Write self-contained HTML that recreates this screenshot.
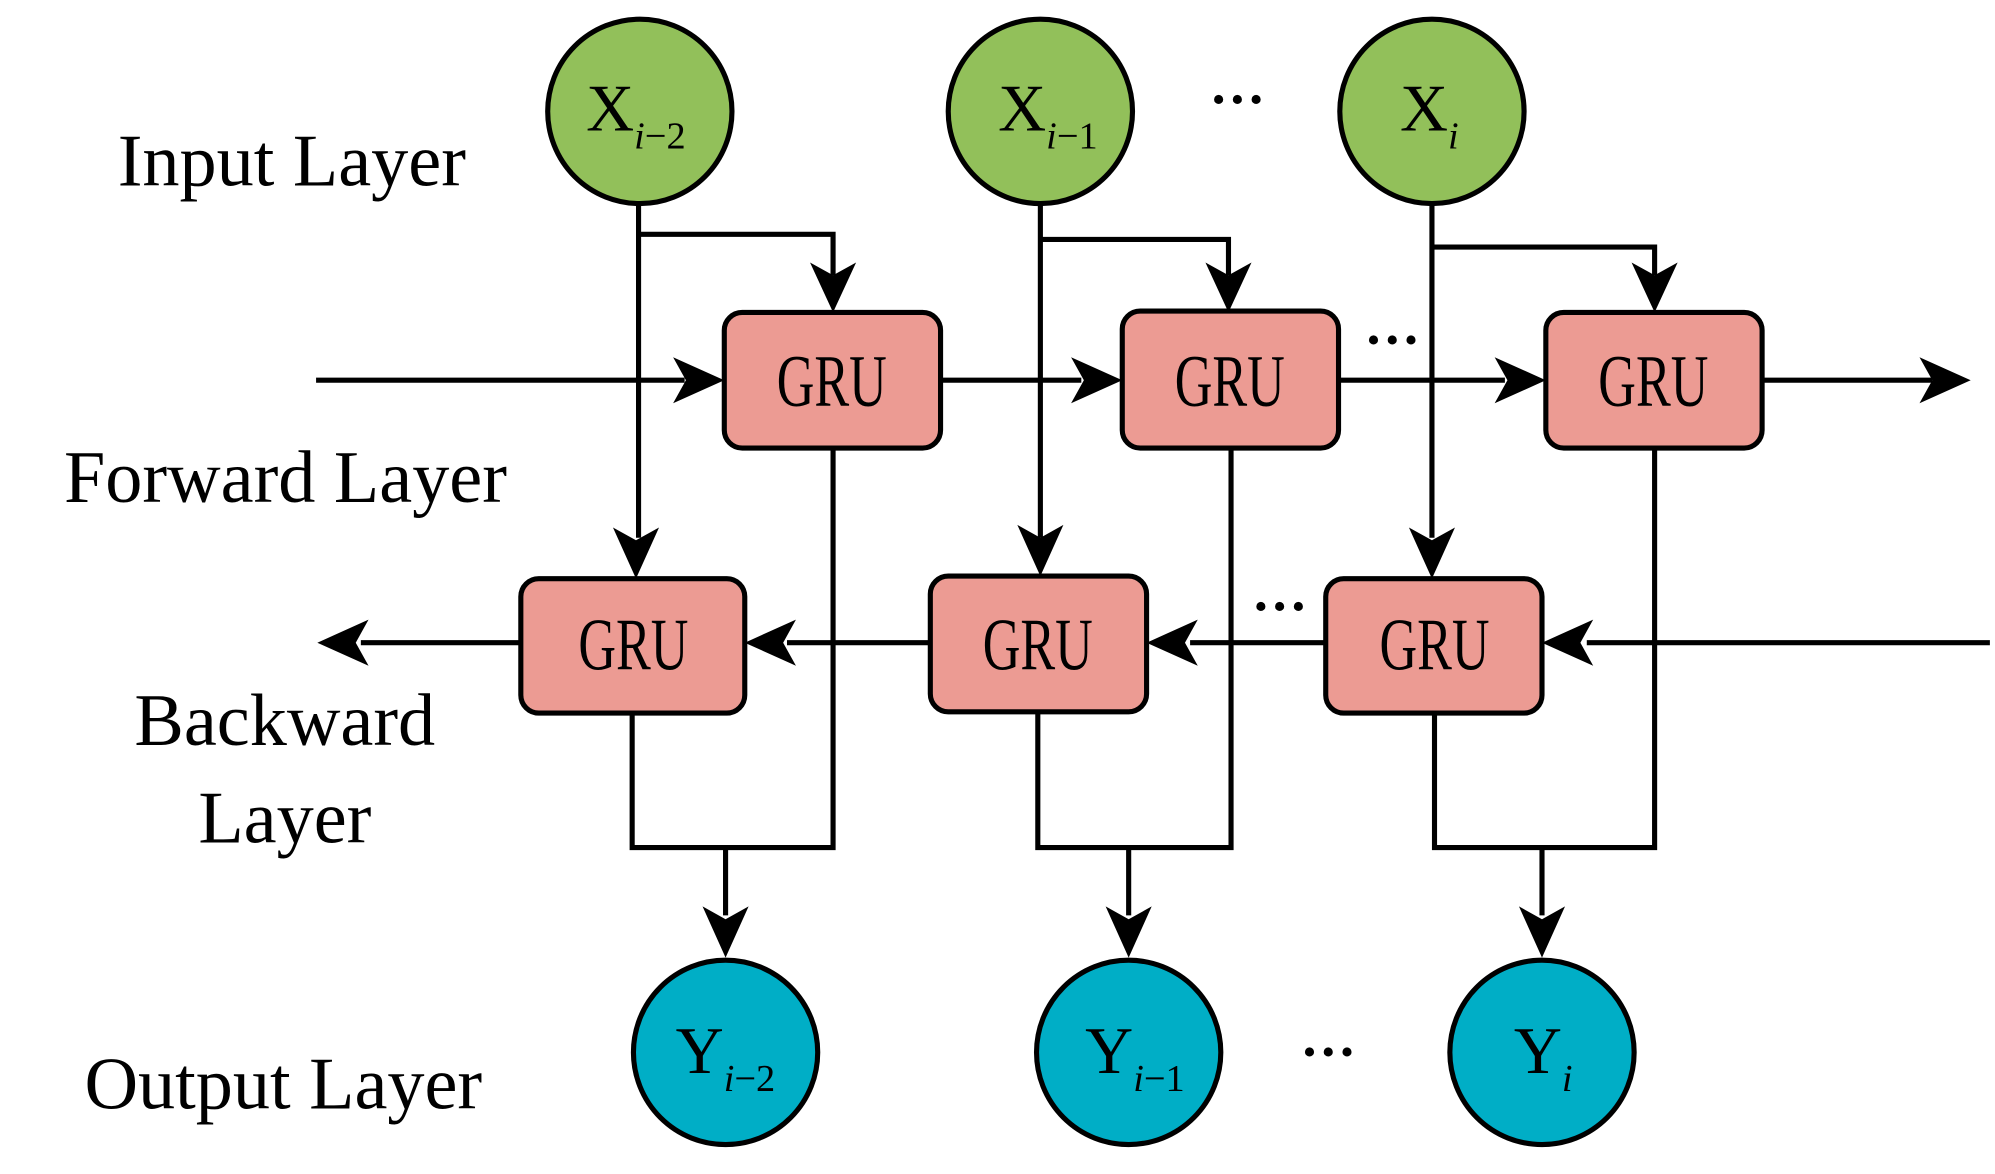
<!DOCTYPE html>
<html><head><meta charset="utf-8"><style>html,body{margin:0;padding:0;background:#fff}svg{display:block}</style></head>
<body>
<svg width="1995" height="1174" viewBox="0 0 1559 917" preserveAspectRatio="none" xmlns="http://www.w3.org/2000/svg" font-family="Liberation Serif, serif">
<g stroke="#000" stroke-width="4" fill="none">
<path d="M499 160V420M813 160V420M1119 160V420"/>
<path d="M499 183H651V215M813 187H960V215M1119 193H1293V215"/>
<path d="M247 297H535M735 297H845M1046 297H1176M1377 297H1510"/>
<path d="M1555 502H1240M1036 502H930M727 502H615M407 502H282"/>
<path d="M651 350V662H494V557M567 662V715"/>
<path d="M962 350V662H811V556M882 662V715"/>
<path d="M1293 350V662H1121V557M1205 662V715"/>
</g>
<g fill="#000">
<path d="M633 205L651 244L669 205L651 215Z"/>
<path d="M942 205L960 244L978 205L960 215Z"/>
<path d="M1275 205L1293 244L1311 205L1293 215Z"/>
<path d="M479 412L497 452L515 412L497 422Z"/>
<path d="M795 410L813 450L831 410L813 420Z"/>
<path d="M1101 412L1119 452L1137 412L1119 422Z"/>
<path d="M549 708L567 748L585 708L567 718Z"/>
<path d="M864 708L882 748L900 708L882 718Z"/>
<path d="M1187 708L1205 748L1223 708L1205 718Z"/>
<path d="M526 279L566 297L526 315L536 297Z"/>
<path d="M837 279L877 297L837 315L847 297Z"/>
<path d="M1168 279L1208 297L1168 315L1178 297Z"/>
<path d="M1500 279L1540 297L1500 315L1510 297Z"/>
<path d="M1245 484L1205 502L1245 520L1235 502Z"/>
<path d="M936 484L896 502L936 520L926 502Z"/>
<path d="M622 484L582 502L622 520L612 502Z"/>
<path d="M288 484L248 502L288 520L278 502Z"/>
</g>
<g stroke="#000" stroke-width="4">
<circle cx="500" cy="87" r="72" fill="#92c05a"/>
<circle cx="813" cy="87" r="72" fill="#92c05a"/>
<circle cx="1119" cy="87" r="72" fill="#92c05a"/>
<circle cx="567" cy="822" r="72" fill="#00aec6"/>
<circle cx="882" cy="822" r="72" fill="#00aec6"/>
<circle cx="1205" cy="822" r="72" fill="#00aec6"/>
<g fill="#ec9b93">
<rect x="566" y="244" width="169" height="106" rx="14"/>
<rect x="877" y="243" width="169" height="107" rx="14"/>
<rect x="1208" y="244" width="169" height="106" rx="14"/>
<rect x="407" y="452" width="175" height="105" rx="14"/>
<rect x="727" y="450" width="169" height="106" rx="14"/>
<rect x="1036" y="452" width="169" height="105" rx="14"/>
</g>
</g>
<g font-size="58" text-anchor="middle">
<text x="650" y="317" textLength="86" lengthAdjust="spacingAndGlyphs">GRU</text>
<text x="961" y="317" textLength="86" lengthAdjust="spacingAndGlyphs">GRU</text>
<text x="1292" y="317" textLength="86" lengthAdjust="spacingAndGlyphs">GRU</text>
<text x="495" y="523" textLength="86" lengthAdjust="spacingAndGlyphs">GRU</text>
<text x="811" y="523" textLength="86" lengthAdjust="spacingAndGlyphs">GRU</text>
<text x="1121" y="523" textLength="86" lengthAdjust="spacingAndGlyphs">GRU</text>
</g>
<g font-size="52">
<text x="458" y="102">X<tspan font-size="30" dy="14" font-style="italic">i</tspan><tspan font-size="30">−2</tspan></text>
<text x="780" y="102">X<tspan font-size="30" dy="14" font-style="italic">i</tspan><tspan font-size="30">−1</tspan></text>
<text x="1094" y="102">X<tspan font-size="30" dy="14" font-style="italic">i</tspan></text>
<text x="528" y="838">Y<tspan font-size="30" dy="14" font-style="italic">i</tspan><tspan font-size="30">−2</tspan></text>
<text x="848" y="838">Y<tspan font-size="30" dy="14" font-style="italic">i</tspan><tspan font-size="30">−1</tspan></text>
<text x="1183" y="838">Y<tspan font-size="30" dy="14" font-style="italic">i</tspan></text>
</g>
<g font-size="44" font-weight="bold" text-anchor="middle">
<text x="967" y="92">···</text>
<text x="1088" y="280">···</text>
<text x="1000" y="488">···</text>
<text x="1038" y="836">···</text>
</g>
<g font-size="58">
<text x="92" y="145">Input Layer</text>
<text x="50" y="392">Forward Layer</text>
<text x="105" y="582">Backward</text>
<text x="155" y="658">Layer</text>
<text x="66" y="866">Output Layer</text>
</g>
</svg>
</body></html>
